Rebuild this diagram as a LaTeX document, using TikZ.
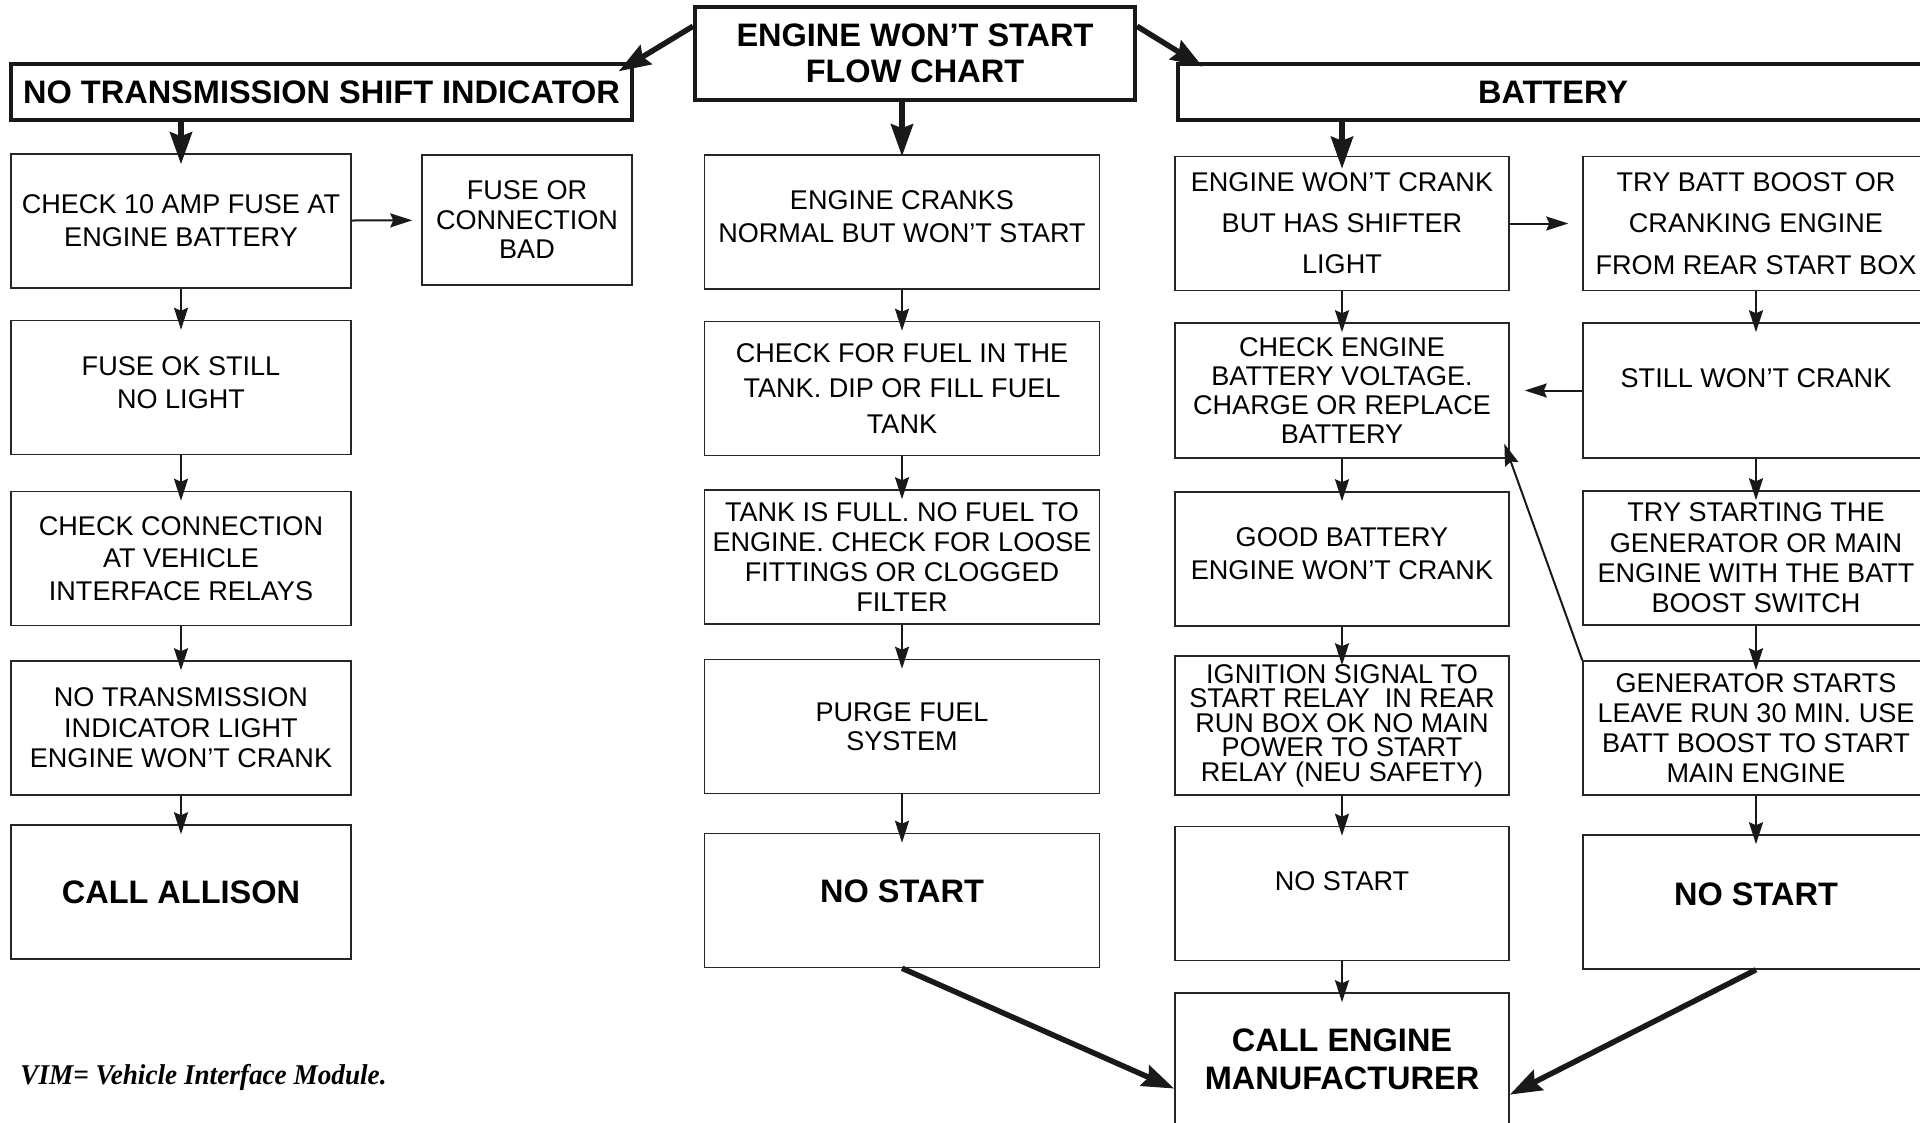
\documentclass[tikz,border=0pt]{standalone}
\usepackage{fontspec}
\usepackage{graphicx}
\setmainfont{Liberation Sans}
\newfontfamily\notefont{Liberation Serif}
\usetikzlibrary{arrows.meta,calc}

\begin{document}
\begin{tikzpicture}[
  x=0.2mm, y=-0.2mm,
  box/.style={rectangle, draw=black!85, line width=0.3mm, inner sep=2pt, align=center,
    minimum height=26.8mm, font=\fontsize{15.4}{18.8}\selectfont},
  headbox/.style={rectangle, draw=black!90, line width=0.8mm, inner sep=2pt, align=center,
    minimum height=11.2mm, font=\bfseries\fontsize{18.5}{20.2}\selectfont},
  leading/.style={font=\fontsize{15.4}{#1}\selectfont},
  boldtext/.style={font=\bfseries\fontsize{18.5}{21.6}\selectfont},
  lifted/.style={text depth=#1},
  colA/.style={box, minimum width=68mm},
  colB/.style={box, minimum width=79mm},
  colC/.style={box, minimum width=66.8mm},
  colD/.style={box, minimum width=69.2mm},
  arrow/.style={-{Stealth[length=4.4mm, width=2.8mm, inset=0.6mm]}, line width=0.4mm, black!90},
  vflow/.style={arrow, shorten >=-2mm},
  bigarrow/.style={-{Stealth[length=6.4mm, width=4.4mm, inset=0.8mm]}, line width=1.1mm, black!90}
]
\useasboundingbox (0,0) rectangle (1920,1123);
\clip (0,0) rectangle (1920,1123);

% Headers
\node[headbox, minimum width=88mm, minimum height=18.6mm] (title) at (915,53.5) {ENGINE WON’T START\\FLOW CHART};
\node[headbox, minimum width=124.2mm] (notrans) at (321.5,92) {NO TRANSMISSION SHIFT INDICATOR};
\node[headbox, minimum width=150mm] (battery) at (1553,92) {BATTERY};

% Shift indicator column
\node[colA] (c10) at (181,221) {CHECK 10 AMP FUSE AT\\ENGINE BATTERY};
\node[box, minimum width=42mm, minimum height=26mm, leading=16.8] (fuse) at (527,220) {FUSE OR\\CONNECTION\\BAD};
\node[colA, lifted=2mm] (fok) at (181,387.5) {FUSE OK STILL\\NO LIGHT};
\node[colA, leading=18.5] (conn) at (181,558.5) {CHECK CONNECTION\\AT VEHICLE\\INTERFACE RELAYS};
\node[colA, leading=17.4] (noind) at (181,728) {NO TRANSMISSION\\INDICATOR LIGHT\\ENGINE WON’T CRANK};
\node[colA, boldtext] (allison) at (181,892) {CALL ALLISON};

% Fuel column
\node[colB, lifted=2mm] (cranks) at (902,222) {ENGINE CRANKS\\NORMAL BUT WON’T START};
\node[colB, leading=20.2] (fuel) at (902,388.5) {CHECK FOR FUEL IN THE\\TANK. DIP OR FILL FUEL\\TANK};
\node[colB, leading=17.2] (full) at (902,557) {TANK IS FULL. NO FUEL TO\\ENGINE. CHECK FOR LOOSE\\FITTINGS OR CLOGGED\\FILTER};
\node[colB, leading=16.8] (purge) at (902,726.5) {PURGE FUEL\\SYSTEM};
\node[colB, boldtext, lifted=3.6mm] (nostartB) at (902,900.5) {NO START};

% Battery column
\node[colC, leading=23.3] (wontcrank) at (1342,223.5) {ENGINE WON’T CRANK\\BUT HAS SHIFTER\\LIGHT};
\node[colC, leading=16.6, minimum height=27mm] (battv) at (1342,390.5) {CHECK ENGINE\\BATTERY VOLTAGE.\\CHARGE OR REPLACE\\BATTERY};
\node[colC, lifted=2mm] (goodbat) at (1342,559) {GOOD BATTERY\\ENGINE WON’T CRANK};
\node[colC, leading=13.9, minimum height=27.8mm] (ignition) at (1342,725.5) {IGNITION SIGNAL TO\\START RELAY~ IN REAR\\RUN BOX OK NO MAIN\\POWER TO START\\RELAY (NEU SAFETY)};
\node[colC, lifted=4.8mm] (nostartC) at (1342,893.5) {NO START};
\node[colC, boldtext, minimum height=26.4mm] (callmfr) at (1342,1059) {CALL ENGINE\\MANUFACTURER};

% Boost column
\node[colD, leading=23.7] (boost) at (1756,223.5) {TRY BATT BOOST OR\\CRANKING ENGINE\\FROM REAR START BOX};
\node[colD, lifted=4.8mm, minimum height=27mm] (still) at (1756,390.5) {STILL WON’T CRANK};
\node[colD, leading=17.2] (trystart) at (1756,558) {TRY STARTING THE\\GENERATOR OR MAIN\\ENGINE WITH THE BATT\\BOOST SWITCH};
\node[colD, leading=17] (genstart) at (1756,728) {GENERATOR STARTS\\LEAVE RUN 30 MIN. USE\\BATT BOOST TO START\\MAIN ENGINE};
\node[colD, boldtext, lifted=3.2mm] (nostartD) at (1756,902) {NO START};

% Footnote
\node[anchor=base west, inner sep=0pt, font=\notefont\bfseries\itshape\fontsize{16.3}{19}\selectfont] (vim) at (20,1084)
  {\scalebox{0.95}[1]{VIM= Vehicle Interface Module.}};

% Header arrows
\draw[bigarrow, shorten >=-3.6mm] (title.173) -- (notrans.north east);
\draw[bigarrow, shorten >=-1.8mm] (title.7) -- ($(battery.north west)+(19,0)$);
\draw[bigarrow, shorten >=-0.4mm] (title.south -| cranks.north) -- (cranks.north);
\draw[bigarrow, shorten >=-2.2mm] (notrans.south -| c10.north) -- (c10.north);
\draw[bigarrow, shorten >=-2.6mm] (battery.south -| wontcrank.north) -- (wontcrank.north);

% Column arrows
\draw[vflow] (c10) -- (fok);
\draw[vflow] (fok) -- (conn);
\draw[vflow] (conn) -- (noind);
\draw[vflow] (noind) -- (allison);
\draw[vflow] (cranks) -- (fuel);
\draw[vflow] (fuel) -- (full);
\draw[vflow] (full) -- (purge);
\draw[vflow] (purge) -- (nostartB);
\draw[vflow] (wontcrank) -- (battv);
\draw[vflow] (battv) -- (goodbat);
\draw[vflow] (goodbat) -- (ignition);
\draw[vflow] (ignition) -- (nostartC);
\draw[vflow] (nostartC) -- (callmfr);
\draw[vflow] (boost) -- (still);
\draw[vflow] (still) -- (trystart);
\draw[vflow] (trystart) -- (genstart);
\draw[vflow] (genstart) -- (nostartD);

% Side arrows
\draw[arrow, shorten >=1.8mm] (c10) -- (fuse);
\draw[arrow, shorten >=2.8mm] (wontcrank) -- (boost);
\draw[arrow, shorten >=3mm] (still) -- (battv);
\draw[arrow, shorten >=-3.2mm] (genstart.north west) -- (battv.south east);

% To manufacturer
\draw[bigarrow] (nostartB.south) -- (callmfr.190);
\draw[bigarrow] (nostartD.south) -- (callmfr.-12);

\end{tikzpicture}
\end{document}
